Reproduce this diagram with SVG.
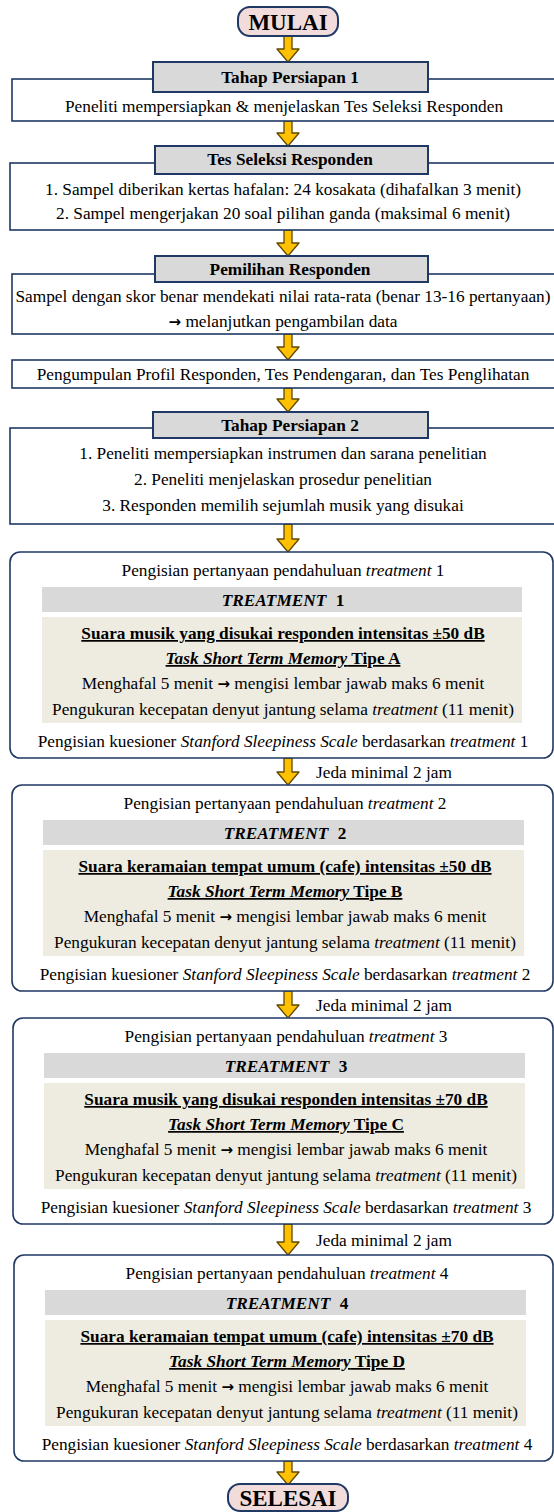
<svg xmlns="http://www.w3.org/2000/svg" width="554" height="1512" viewBox="0 0 554 1512">
<style>
.bg{fill:#fff}
.box{fill:#fff;stroke:#1F3864;stroke-width:1.6}
.hdr{fill:#D9D9D9;stroke:#1F3864;stroke-width:2}
.pill{fill:#F2DCDB;stroke:#1F3864;stroke-width:2}
.band{fill:#D9D9D9}
.beige{fill:#EEECE1}
.arr{fill:#FFC000;stroke:#5E4A00;stroke-width:1.3;stroke-linejoin:round}
text{font-family:"Liberation Serif","Times New Roman",serif;font-size:17.3px;fill:#000;text-anchor:middle}
.b{font-weight:bold}
.i{font-style:italic}
.u{text-decoration:underline}
.big{font-size:23px;font-weight:bold}
.l{text-anchor:start}
.ar{font-family:"DejaVu Sans",sans-serif;font-weight:bold;font-size:15px}
</style>
<rect class="bg" x="0" y="0" width="554" height="1512"/>

<g id="connectors">
<path class="arr" d="M284,36 H292 V49 H299 L288,62 L277,49 H284 Z"/>
<path class="arr" d="M284,121 H292 V133 H299 L288,146 L277,133 H284 Z"/>
<path class="arr" d="M284,230 H292 V243 H299 L288,256 L277,243 H284 Z"/>
<path class="arr" d="M284,334 H292 V347 H299 L288,360 L277,347 H284 Z"/>
<path class="arr" d="M284,388 H292 V399 H299 L288,412 L277,399 H284 Z"/>
<path class="arr" d="M284,524 H292 V539 H299 L288,552 L277,539 H284 Z"/>
<path class="arr" d="M284,758 H292 V772 H299 L288,785 L277,772 H284 Z"/>
<path class="arr" d="M284,991 H292 V1005 H299 L288,1018 L277,1005 H284 Z"/>
<path class="arr" d="M284,1224 H292 V1242 H299 L288,1255 L277,1242 H284 Z"/>
<path class="arr" d="M284,1461 H292 V1472 H299 L288,1485 L277,1472 H284 Z"/>
<text class="l" x="316" y="778">Jeda minimal 2 jam</text>
<text class="l" x="316" y="1011">Jeda minimal 2 jam</text>
<text class="l" x="316" y="1246">Jeda minimal 2 jam</text>
</g>

<g id="mulai">
<rect class="pill" x="238" y="7" width="100" height="29" rx="12"/>
<text class="big" x="288" y="30">MULAI</text>
</g>

<g id="persiapan1">
<rect class="box" x="12" y="79" width="560" height="42"/>
<rect class="hdr" x="153" y="62" width="275" height="30"/>
<text class="b" x="290" y="83">Tahap Persiapan 1</text>
<text x="284" y="112">Peneliti mempersiapkan &amp; menjelaskan Tes Seleksi Responden</text>
</g>

<g id="tes-seleksi">
<rect class="box" x="10" y="163" width="560" height="67"/>
<rect class="hdr" x="155" y="146" width="273" height="28"/>
<text class="b" x="290" y="165">Tes Seleksi Responden</text>
<text x="283" y="195">1. Sampel diberikan kertas hafalan: 24 kosakata (dihafalkan 3 menit)</text>
<text x="283" y="219">2. Sampel mengerjakan 20 soal pilihan ganda (maksimal 6 menit)</text>
</g>

<g id="pemilihan">
<rect class="box" x="12" y="274" width="560" height="60"/>
<rect class="hdr" x="155" y="256" width="273" height="26"/>
<text class="b" x="290" y="275">Pemilihan Responden</text>
<text x="283" y="302">Sampel dengan skor benar mendekati nilai rata-rata (benar 13-16 pertanyaan)</text>
<text x="283" y="327"><tspan class="ar">→</tspan> melanjutkan pengambilan data</text>
</g>

<g id="pengumpulan">
<rect class="box" x="12" y="360" width="560" height="28"/>
<text x="283" y="380">Pengumpulan Profil Responden, Tes Pendengaran, dan Tes Penglihatan</text>
</g>

<g id="persiapan2">
<rect class="box" x="10" y="428" width="560" height="96"/>
<rect class="hdr" x="153" y="412" width="275" height="26"/>
<text class="b" x="290" y="431">Tahap Persiapan 2</text>
<text x="283" y="459">1. Peneliti mempersiapkan instrumen dan sarana penelitian</text>
<text x="283" y="485">2. Peneliti menjelaskan prosedur penelitian</text>
<text x="283" y="511">3. Responden memilih sejumlah musik yang disukai</text>
</g>

<g id="treatment1">
<rect class="box" x="10" y="552" width="543" height="206" rx="10"/>
<text x="283" y="576">Pengisian pertanyaan pendahuluan <tspan class="i">treatment</tspan> 1</text>
<rect class="band" x="42" y="587" width="480" height="25"/>
<text class="b" x="283" y="606"><tspan class="i">TREATMENT</tspan><tspan dx="5"> 1</tspan></text>
<rect class="beige" x="42" y="617" width="480" height="106"/>
<text class="b u" x="283" y="639">Suara musik yang disukai responden intensitas ±50 dB</text>
<text class="b u" x="283" y="664"><tspan class="i">Task Short Term Memory</tspan> Tipe A</text>
<text x="283" y="689">Menghafal 5 menit <tspan class="ar">→</tspan> mengisi lembar jawab maks 6 menit</text>
<text x="283" y="715">Pengukuran kecepatan denyut jantung selama <tspan class="i">treatment</tspan> (11 menit)</text>
<text x="283" y="747">Pengisian kuesioner <tspan class="i">Stanford Sleepiness Scale</tspan> berdasarkan <tspan class="i">treatment</tspan> 1</text>
</g>

<g id="treatment2">
<rect class="box" x="12" y="785" width="541" height="206" rx="10"/>
<text x="285" y="809">Pengisian pertanyaan pendahuluan <tspan class="i">treatment</tspan> 2</text>
<rect class="band" x="43" y="820" width="481" height="25"/>
<text class="b" x="285" y="839"><tspan class="i">TREATMENT</tspan><tspan dx="5"> 2</tspan></text>
<rect class="beige" x="43" y="850" width="481" height="106"/>
<text class="b u" x="285" y="872">Suara keramaian tempat umum (cafe) intensitas ±50 dB</text>
<text class="b u" x="285" y="897"><tspan class="i">Task Short Term Memory</tspan> Tipe B</text>
<text x="285" y="922">Menghafal 5 menit <tspan class="ar">→</tspan> mengisi lembar jawab maks 6 menit</text>
<text x="285" y="948">Pengukuran kecepatan denyut jantung selama <tspan class="i">treatment</tspan> (11 menit)</text>
<text x="285" y="980">Pengisian kuesioner <tspan class="i">Stanford Sleepiness Scale</tspan> berdasarkan <tspan class="i">treatment</tspan> 2</text>
</g>

<g id="treatment3">
<rect class="box" x="13" y="1018" width="540" height="206" rx="10"/>
<text x="286" y="1042">Pengisian pertanyaan pendahuluan <tspan class="i">treatment</tspan> 3</text>
<rect class="band" x="44" y="1053" width="481" height="25"/>
<text class="b" x="286" y="1072"><tspan class="i">TREATMENT</tspan><tspan dx="5"> 3</tspan></text>
<rect class="beige" x="44" y="1083" width="481" height="106"/>
<text class="b u" x="286" y="1105">Suara musik yang disukai responden intensitas ±70 dB</text>
<text class="b u" x="286" y="1130"><tspan class="i">Task Short Term Memory</tspan> Tipe C</text>
<text x="286" y="1155">Menghafal 5 menit <tspan class="ar">→</tspan> mengisi lembar jawab maks 6 menit</text>
<text x="286" y="1181">Pengukuran kecepatan denyut jantung selama <tspan class="i">treatment</tspan> (11 menit)</text>
<text x="286" y="1213">Pengisian kuesioner <tspan class="i">Stanford Sleepiness Scale</tspan> berdasarkan <tspan class="i">treatment</tspan> 3</text>
</g>

<g id="treatment4">
<rect class="box" x="14" y="1255" width="539" height="206" rx="10"/>
<text x="287" y="1279">Pengisian pertanyaan pendahuluan <tspan class="i">treatment</tspan> 4</text>
<rect class="band" x="45" y="1290" width="481" height="25"/>
<text class="b" x="287" y="1309"><tspan class="i">TREATMENT</tspan><tspan dx="5"> 4</tspan></text>
<rect class="beige" x="45" y="1320" width="481" height="106"/>
<text class="b u" x="287" y="1342">Suara keramaian tempat umum (cafe) intensitas ±70 dB</text>
<text class="b u" x="287" y="1367"><tspan class="i">Task Short Term Memory</tspan> Tipe D</text>
<text x="287" y="1392">Menghafal 5 menit <tspan class="ar">→</tspan> mengisi lembar jawab maks 6 menit</text>
<text x="287" y="1418">Pengukuran kecepatan denyut jantung selama <tspan class="i">treatment</tspan> (11 menit)</text>
<text x="287" y="1450">Pengisian kuesioner <tspan class="i">Stanford Sleepiness Scale</tspan> berdasarkan <tspan class="i">treatment</tspan> 4</text>
</g>

<g id="selesai">
<rect class="pill" x="228" y="1484" width="120" height="27" rx="12"/>
<text class="big" x="288" y="1506">SELESAI</text>
</g>
</svg>
